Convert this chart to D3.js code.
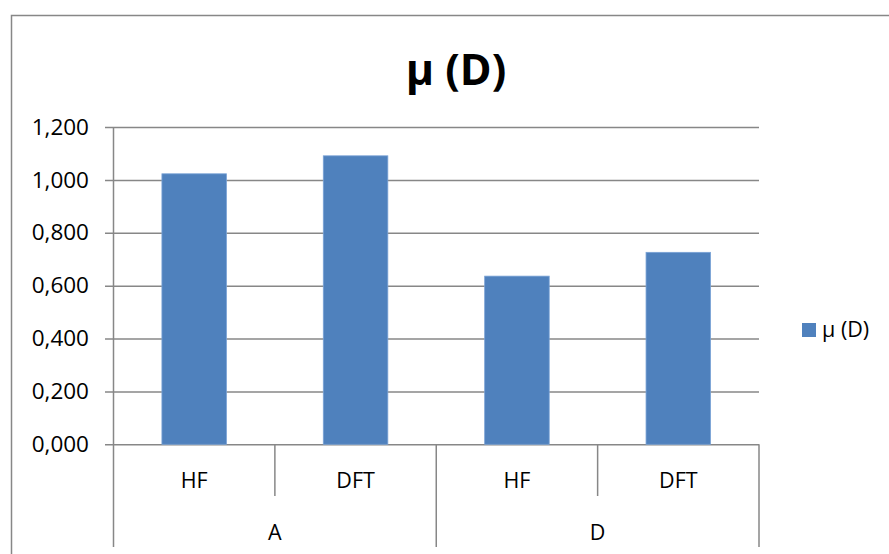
<!DOCTYPE html>
<html>
<head>
<meta charset="utf-8">
<script src="https://cdn.jsdelivr.net/npm/d3@7"></script>
<style>
  html, body { margin: 0; padding: 0; background: #fff; }
  svg { display: block; }
  text { font-family: "Open Sans", Lato, sans-serif; fill: #000; }
</style>
</head>
<body>
<svg id="chart" width="889" height="554"></svg>
<script>
// ---- data ----
const title = "μ (D)";
const seriesName = "μ (D)";
const methods = ["HF", "DFT", "HF", "DFT"];
const groupOf = ["A", "A", "D", "D"];
const groups = ["A", "D"];
const values = [1.023, 1.091, 0.636, 0.726];
const yTicks = [0, 0.2, 0.4, 0.6, 0.8, 1.0, 1.2];

// ---- layout ----
const W = 889, H = 554;
const plotLeft = 113.5, plotRight = 759, plotTop = 127, plotBottom = 444.3;
const gridColor = "#878787";
const barColor = "#4F81BD";

const svg = d3.select("#chart");

// outer border
svg.append("rect")
  .attr("x", 11.5).attr("y", 15.5)
  .attr("width", W + 20).attr("height", H + 20)
  .attr("fill", "none").attr("stroke", gridColor).attr("stroke-width", 1.5);

const locale = d3.formatLocale({ decimal: ",", thousands: ".", grouping: [3], currency: ["", ""] });
const fmt = locale.format(".3f");

const y = d3.scaleLinear().domain([0, 1.2]).range([plotBottom, plotTop]);
const x = d3.scaleBand().domain(d3.range(values.length)).range([plotLeft, plotRight])
  .paddingInner(0.6).paddingOuter(0.3);
const step = x.step();

// gridlines + y labels
const yAxis = d3.axisLeft(y).tickValues(yTicks).tickFormat(fmt)
  .tickSizeInner(plotRight - 105).tickSizeOuter(0).tickPadding(16);
const gy = svg.append("g").attr("transform", `translate(${plotRight},0)`).call(yAxis);
gy.select(".domain").remove();
gy.selectAll(".tick line").attr("stroke", gridColor).attr("stroke-width", 1.5);
gy.selectAll(".tick text").attr("font-size", 22.5).attr("font-family", "\"Open Sans\", Lato, sans-serif").attr("fill", "#000");

// bars
svg.append("g").selectAll("rect").data(values).join("rect")
  .attr("x", (d, i) => x(i))
  .attr("y", d => y(d))
  .attr("width", x.bandwidth())
  .attr("height", d => y(0) - y(d))
  .attr("fill", barColor)
  .attr("stroke", "#7AA3D6").attr("stroke-width", 0.8);

// vertical axis line
svg.append("line")
  .attr("x1", plotLeft).attr("x2", plotLeft).attr("y1", plotTop).attr("y2", 547)
  .attr("stroke", gridColor).attr("stroke-width", 1.5);

// category separators
const bandEdge = i => plotLeft + i * step;
methods.forEach((m, i) => {
  if (i === 0) return;
  const isGroupEdge = groupOf[i] !== groupOf[i - 1];
  svg.append("line")
    .attr("x1", bandEdge(i)).attr("x2", bandEdge(i))
    .attr("y1", plotBottom).attr("y2", isGroupEdge ? 547 : 496)
    .attr("stroke", gridColor).attr("stroke-width", 1.5);
});
svg.append("line")
  .attr("x1", plotRight).attr("x2", plotRight).attr("y1", plotBottom).attr("y2", 547)
  .attr("stroke", gridColor).attr("stroke-width", 1.5);

// method labels
svg.append("g").selectAll("text").data(methods).join("text")
  .attr("x", (d, i) => x(i) + x.bandwidth() / 2)
  .attr("y", 488)
  .attr("text-anchor", "middle")
  .attr("font-size", 21.5)
  .text(d => d);

// group labels
groups.forEach(g => {
  const idx = groupOf.map((v, i) => v === g ? i : -1).filter(i => i >= 0);
  const cx = (bandEdge(idx[0]) + bandEdge(idx[idx.length - 1] + 1)) / 2;
  svg.append("text")
    .attr("x", cx).attr("y", 539.5)
    .attr("text-anchor", "middle")
    .attr("font-size", 21.5)
    .text(g);
});

// title
svg.append("text")
  .attr("x", 456).attr("y", 85)
  .attr("text-anchor", "middle")
  .attr("font-size", 43)
  .attr("font-weight", "bold")
  .text(title);

// legend
svg.append("rect")
  .attr("x", 802).attr("y", 323).attr("width", 14).attr("height", 14)
  .attr("fill", barColor);
svg.append("text")
  .attr("x", 822).attr("y", 337)
  .attr("font-size", 21.5)
  .text(seriesName);
</script>
</body>
</html>
